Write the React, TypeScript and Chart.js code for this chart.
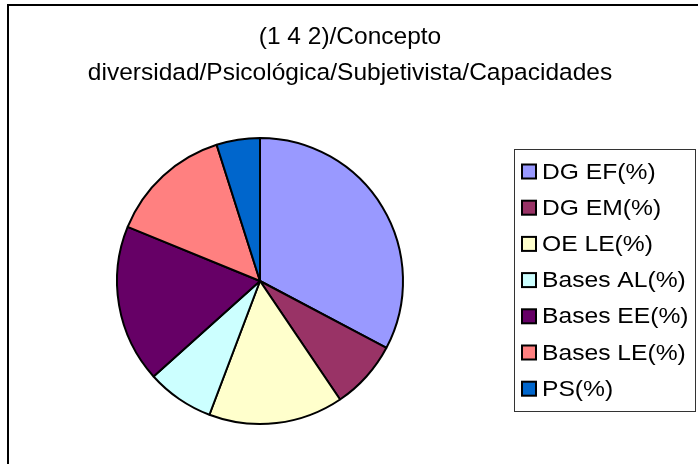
import React, { useEffect, useRef } from "react";
import { Chart, registerables } from "chart.js";

Chart.register(...registerables);

const TITLE_LINES = ["(1 4 2)/Concepto", "diversidad/Psicológica/Subjetivista/Capacidades"];
const CATEGORIES = ["DG EF(%)", "DG EM(%)", "OE LE(%)", "Bases AL(%)", "Bases EE(%)", "Bases LE(%)", "PS(%)"];
const VALUES = [32.7, 7.8, 15.2, 7.6, 17.8, 13.9, 4.9];
const COLORS = ["#9999FF", "#993366", "#FFFFCC", "#CCFFFF", "#660066", "#FF8080", "#0066CC"];

const FONT = "'Liberation Sans', Arial, sans-serif";

const framePlugin = {
  id: "frame",
  beforeDraw(chart: any) {
    const ctx = chart.ctx;
    ctx.save();
    ctx.fillStyle = "#ffffff";
    ctx.fillRect(0, 0, chart.width, chart.height);
    ctx.strokeStyle = "#000000";
    ctx.lineWidth = 2;
    ctx.strokeRect(8, 5, chart.width + 20, chart.height + 20);
    ctx.restore();
  },
  afterDraw(chart: any) {
    const ctx = chart.ctx;
    ctx.save();
    // title
    ctx.fillStyle = "#000000";
    ctx.textAlign = "center";
    ctx.textBaseline = "alphabetic";
    ctx.font = `24.5px ${FONT}`;
    ctx.fillText(TITLE_LINES[0], 350, 44);
    ctx.fillText(TITLE_LINES[1], 350, 80);

    // legend box
    ctx.strokeStyle = "#333333";
    ctx.lineWidth = 1;
    ctx.strokeRect(514.5, 149.5, 181, 262);

    const labels = chart.data.labels as string[];
    const colors = chart.data.datasets[0].backgroundColor as string[];
    const step = 36.2;
    labels.forEach((lab, i) => {
      const base = 178.5 + i * step;
      ctx.fillStyle = colors[i];
      ctx.fillRect(522, base - 14, 14, 14);
      ctx.strokeStyle = "#000000";
      ctx.lineWidth = 2;
      ctx.strokeRect(522, base - 14, 14, 14);
      ctx.fillStyle = "#000000";
      ctx.textAlign = "left";
      ctx.font = `22px ${FONT}`;
      ctx.save();
      ctx.translate(542, base);
      ctx.scale(1.12, 1);
      ctx.fillText(lab, 0, 0);
      ctx.restore();
    });
    ctx.restore();
  },
};

export default function App() {
  const ref = useRef<HTMLCanvasElement | null>(null);
  useEffect(() => {
    if (!ref.current) return;
    const chart = new Chart(ref.current, {
      type: "pie",
      data: {
        labels: CATEGORIES,
        datasets: [
          {
            data: VALUES,
            backgroundColor: COLORS,
            borderColor: "#000000",
            borderWidth: 2,
            hoverOffset: 0,
          },
        ],
      },
      options: {
        responsive: false,
        animation: false,
        events: [],
        layout: { padding: { left: 116, right: 294, top: 137, bottom: 39 } },
        plugins: {
          legend: { display: false },
          title: { display: false },
          tooltip: { enabled: false },
        },
      },
      plugins: [framePlugin],
    });
    return () => chart.destroy();
  }, []);
  return (
    <div style={{ position: "fixed", left: 0, top: 0, width: 698, height: 464, background: "#fff" }}>
      <canvas ref={ref} width={698} height={464} style={{ display: "block" }} />
    </div>
  );
}
